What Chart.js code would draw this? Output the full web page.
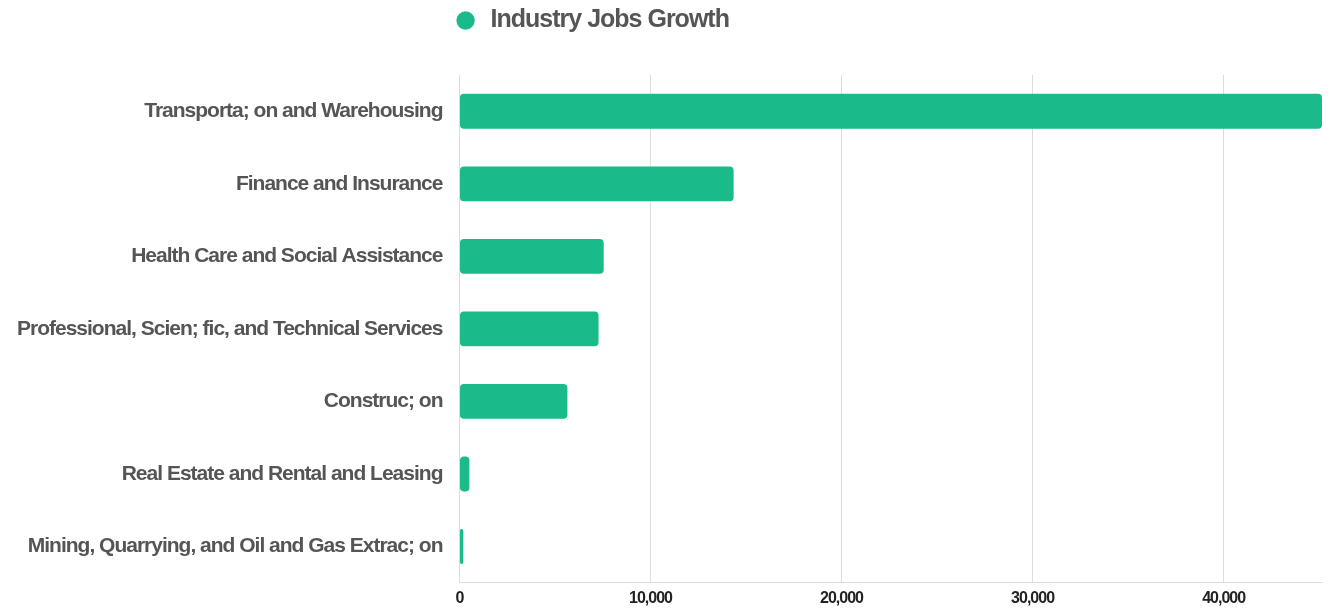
<!DOCTYPE html>
<html>
<head>
<meta charset="utf-8">
<script src="https://cdn.jsdelivr.net/npm/chart.js@4/dist/chart.umd.min.js"></script>
<style>
  html, body { margin: 0; padding: 0; background: #fff; }
  #wrap { width: 1336px; height: 614px; }
</style>
</head>
<body>
<div id="wrap"><canvas id="jobsChart"></canvas></div>
<script>
const industries = [
    'Transporta; on and Warehousing',
    'Finance and Insurance',
    'Health Care and Social Assistance',
    'Professional, Scien; fic, and Technical Services',
    'Construc; on',
    'Real Estate and Rental and Leasing',
    'Mining, Quarrying, and Oil and Gas Extrac; on'
];
const jobsGrowth = [45150, 14350, 7550, 7280, 5650, 520, 200];
const xTicks = [0, 10000, 20000, 30000, 40000];

// tight letter spacing like the original render
const tightText = {
    id: 'tightText',
    beforeInit(chart) {
        chart.ctx.letterSpacing = '-1px';
        // extra room under the legend
        const fit = chart.legend.fit;
        chart.legend.fit = function () { fit.call(this); this.height += 32; };
    },
    beforeLayout(chart) { chart.ctx.letterSpacing = '-1px'; },
    afterLayout(chart) {
        // legend sits left of page centre in the original
        chart.legend.left -= 74;
        chart.legend.right -= 74;
    },
    beforeDraw(chart) { chart.ctx.letterSpacing = '-1px'; }
};

const ctx = document.getElementById('jobsChart').getContext('2d');
const myChart = new Chart(ctx, {
    type: 'bar',
    data: {
        labels: industries,
        datasets: [{
            label: 'Industry Jobs Growth',
            data: jobsGrowth,
            backgroundColor: '#1aba8a',
            borderRadius: 4,
            borderSkipped: false,
            barPercentage: 0.8,
            categoryPercentage: 0.6
        }]
    },
    options: {
        indexAxis: 'y',
        responsive: true,
        maintainAspectRatio: false,
        animation: false,
        layout: { padding: { top: 0, right: 14, bottom: 0, left: 8 } },
        plugins: {
            legend: {
                labels: {
                    usePointStyle: true,
                    pointStyle: 'circle',
                    boxWidth: 25,
                    boxHeight: 13,
                    padding: 8,
                    color: '#555',
                    font: { family: 'Liberation Sans', size: 25, weight: 'bold' }
                }
            },
            tooltip: { enabled: false }
        },
        scales: {
            x: {
                min: 0,
                max: Math.max(...jobsGrowth),
                afterBuildTicks: axis => { axis.ticks = xTicks.map(v => ({ value: v })); },
                grid: { color: '#dddddd', drawTicks: false, lineWidth: 1 },
                border: { display: true, color: '#dddddd' },
                ticks: {
                    padding: 6,
                    color: '#222',
                    font: { family: 'Liberation Sans', size: 16, weight: 'bold' },
                    callback: v => v.toLocaleString('en-US')
                }
            },
            y: {
                grid: { display: false },
                border: { display: true, color: '#dddddd' },
                ticks: {
                    padding: 9,
                    color: '#555',
                    font: { family: 'Liberation Sans', size: 21, weight: 'bold' }
                }
            }
        }
    },
    plugins: [tightText]
});
</script>
</body>
</html>
